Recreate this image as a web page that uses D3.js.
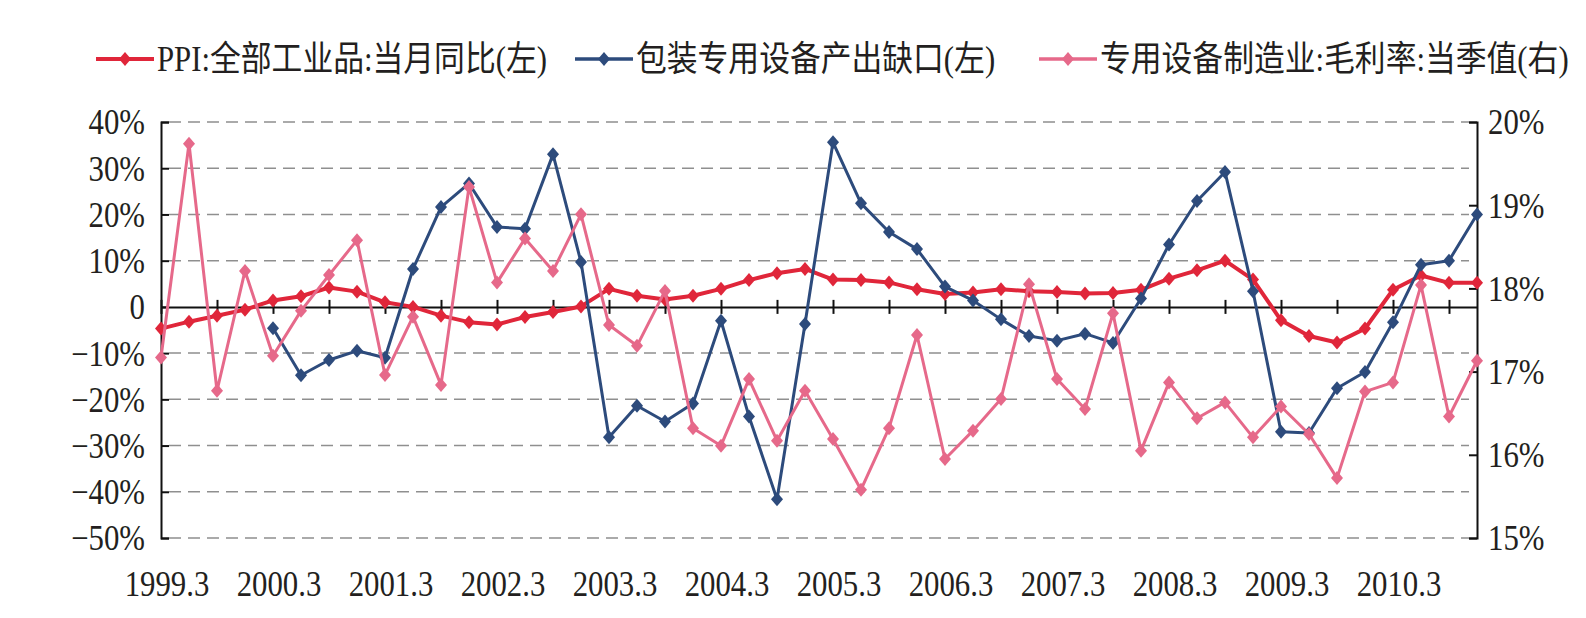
<!DOCTYPE html>
<meta charset="utf-8">
<style>
    body { margin: 0; background-color: #fff; }
    text { font-family: "Liberation Serif", "Noto Sans CJK SC", serif; fill: #231f20; }
    .grid line { stroke: #8f8f8f; stroke-width: 1.5px; stroke-dasharray: 12,7; }
    .axis path, .axis line { stroke: #111; stroke-width: 2px; fill: none; }
    .line { fill: none; }
</style>
<body>
<svg width="1586" height="618"></svg>
<script src="https://d3js.org/d3.v7.min.js"></script>
<script>
    // quarterly, 1999.3 .. 2010.12
    var xLabels = ["1999.3", "2000.3", "2001.3", "2002.3", "2003.3", "2004.3",
        "2005.3", "2006.3", "2007.3", "2008.3", "2009.3", "2010.3"];
    var leftTicks = [40, 30, 20, 10, 0, -10, -20, -30, -40, -50];
    var rightTicks = [20, 19, 18, 17, 16, 15];

    // PPI:全部工业品:当月同比 (%)
    var ppi = [-4.7, -3.2, -1.9, -0.6, 1.4, 2.3, 4.2, 3.3, 1.0, 0.0, -1.9, -3.3,
        -3.8, -2.2, -1.1, 0.1, 3.9, 2.4, 1.6, 2.4, 3.9, 5.8, 7.3, 8.2,
        5.9, 5.8, 5.3, 3.8, 2.8, 3.1, 3.8, 3.4, 3.2, 2.9, 3.0, 3.7,
        6.1, 7.9, 10.0, 5.9, -2.9, -6.3, -7.7, -4.7, 3.7, 6.8, 5.2, 5.2];

    // 包装专用设备产出缺口 (%), starts 2000.3
    var gap = [null, null, null, null, -4.6, -14.8, -11.5, -9.5, -11.0, 8.2, 21.6, 26.7,
        17.3, 16.9, 33.0, 9.7, -28.2, -21.4, -24.8, -20.9, -3.0, -23.7, -41.6, -3.7,
        35.6, 22.4, 16.2, 12.5, 4.4, 1.4, -2.7, -6.3, -7.3, -5.8, -7.8, 1.8,
        13.5, 22.9, 29.2, 3.4, -27.0, -27.3, -17.6, -14.1, -3.3, 9.1, 10.0, 20.0];

    // 专用设备制造业:毛利率:当季值 (%), right axis
    var margin = [17.17, 19.74, 16.77, 18.21, 17.19, 17.73, 18.16, 18.58, 16.96, 17.66, 16.84, 19.22,
        18.07, 18.60, 18.21, 18.89, 17.56, 17.31, 17.97, 16.32, 16.11, 16.91, 16.17, 16.77,
        16.19, 15.58, 16.32, 17.44, 15.95, 16.29, 16.67, 18.05, 16.91, 16.55, 17.70, 16.05,
        16.87, 16.44, 16.63, 16.21, 16.58, 16.25, 15.72, 16.76, 16.87, 18.04, 16.46, 17.13];

    var seriesNames = ["PPI:全部工业品:当月同比(左)", "包装专用设备产出缺口(左)", "专用设备制造业:毛利率:当季值(右)"];
    var colors = ["#e0263a", "#2d4b7c", "#e6698a"];

    var svg = d3.select("svg");
    var sx = 0.88;   // the reference type is a bit narrow

    var x = d3.scaleLinear().domain([0, ppi.length - 1]).range([161, 1477]);
    var yL = d3.scaleLinear().domain([-50, 40]).range([538, 122]);
    var yR = d3.scaleLinear().domain([15, 20]).range([538, 122]);

    // dashed grid
    svg.append("g")
        .attr("class", "grid")
        .selectAll("line")
        .data(leftTicks.filter(function(d) { return d !== 0; }))
        .enter().append("line")
        .attr("x1", x.range()[0] + 8)
        .attr("x2", x.range()[1] - 8)
        .attr("y1", function(d) { return yL(d); })
        .attr("y2", function(d) { return yL(d); });

    function fmt(d) {
        if (d === 0) return "0";
        return (d < 0 ? "\u2212" + (-d) : d) + "%";
    }

    var gl = svg.append("g")
        .attr("class", "axis")
        .attr("transform", "translate(" + x.range()[0] + ",0)")
        .call(d3.axisLeft(yL).tickValues(leftTicks).tickSize(-8).tickPadding(16).tickFormat(fmt));

    var gr = svg.append("g")
        .attr("class", "axis")
        .attr("transform", "translate(" + x.range()[1] + ",0)")
        .call(d3.axisRight(yR).tickValues(rightTicks).tickSize(-8).tickPadding(11)
            .tickFormat(function(d) { return d + "%"; }));

    [gl, gr].forEach(function(g) {
        g.selectAll("text")
            .attr("font-family", null)
            .attr("font-size", null)
            .style("font-size", "35px")
            .attr("dy", "0.34em")
            .attr("transform", "scale(" + sx + ",1)");
    });
    gl.selectAll("text").attr("x", -16 / sx);
    gr.selectAll("text").attr("x", 11 / sx);

    // category axis on the zero line
    var evenIdx = d3.range(0, ppi.length, 2);
    var gx = svg.append("g")
        .attr("class", "axis")
        .attr("transform", "translate(0," + yL(0) + ")")
        .call(d3.axisBottom(x).tickValues(evenIdx).tickSizeOuter(0).tickFormat(""));
    gx.selectAll(".tick line").attr("y1", -7).attr("y2", 7);

    svg.append("g").selectAll("text")
        .data(xLabels)
        .enter().append("text")
        .attr("text-anchor", "middle")
        .style("font-size", "35px")
        .attr("transform", function(d, i) {
            return "translate(" + (x(i * 4) + 6) + ",596) scale(" + sx + ",1)";
        })
        .text(function(d) { return d; });

    // series
    var diamond = "M0,-7L6,0L0,7L-6,0Z";
    var series = [
        {values: ppi, y: yL, width: 4},
        {values: gap, y: yL, width: 3},
        {values: margin, y: yR, width: 3}
    ];

    series.forEach(function(s, k) {
        var pts = s.values.map(function(v, i) { return {i: i, v: v}; })
            .filter(function(d) { return d.v !== null; });

        var line = d3.line()
            .x(function(d) { return x(d.i); })
            .y(function(d) { return s.y(d.v); });

        svg.append("path")
            .datum(pts)
            .attr("class", "line")
            .attr("stroke", colors[k])
            .attr("stroke-width", s.width)
            .attr("stroke-linejoin", "round")
            .attr("d", line);

        svg.append("g").selectAll("path")
            .data(pts)
            .enter().append("path")
            .attr("d", diamond)
            .attr("fill", colors[k])
            .attr("transform", function(d) {
                return "translate(" + x(d.i) + "," + s.y(d.v) + ")";
            });
    });

    // legend
    var legendX = [96, 575, 1039];
    var lg = svg.append("g").selectAll("g")
        .data(seriesNames)
        .enter().append("g")
        .attr("transform", function(d, i) { return "translate(" + legendX[i] + ",59)"; });

    lg.append("line")
        .attr("x1", 0).attr("x2", 58)
        .attr("stroke", function(d, i) { return colors[i]; })
        .attr("stroke-width", function(d, i) { return i === 0 ? 4 : 3.5; });

    lg.append("path")
        .attr("d", diamond)
        .attr("transform", "translate(29,0)")
        .attr("fill", function(d, i) { return colors[i]; });

    lg.append("text")
        .attr("transform", "translate(61,12) scale(" + sx + ",1)")
        .style("font-size", "35px")
        .text(function(d) { return d; });
</script>
</body>
